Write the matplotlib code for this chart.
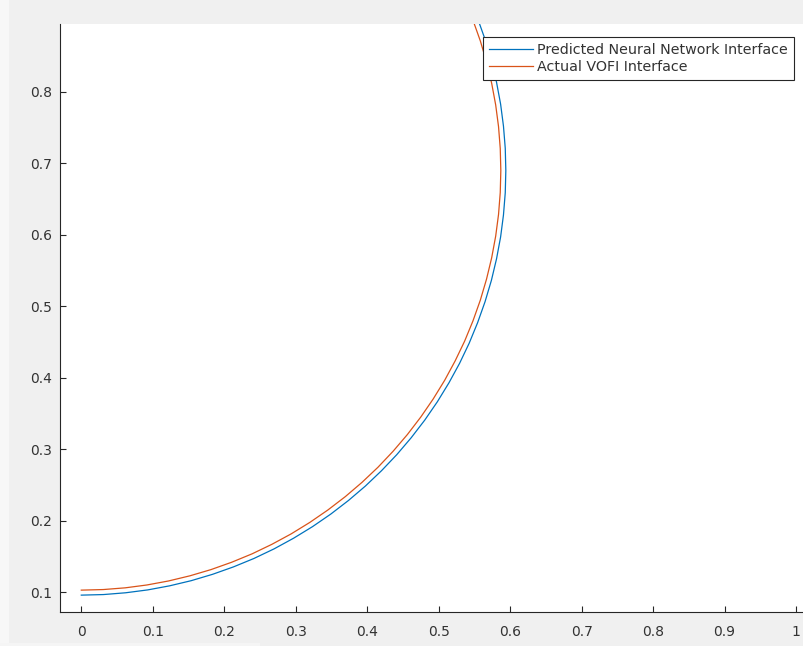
import matplotlib
matplotlib.use("Agg")
import matplotlib.pyplot as plt
from matplotlib.patches import Rectangle

# Interface points (x, y) for each curve
predicted_x = [0.0, 0.0311, 0.0621, 0.0929, 0.1235, 0.1537, 0.1836, 0.2129, 0.2416, 0.2697,
               0.2970, 0.3235, 0.3491, 0.3738, 0.3975, 0.4200, 0.4414, 0.4616, 0.4806, 0.4982,
               0.5144, 0.5293, 0.5427, 0.5545, 0.5649, 0.5738, 0.5810, 0.5867, 0.5907, 0.5932,
               0.5940, 0.5932, 0.5907, 0.5867, 0.5810, 0.5738, 0.5649, 0.5545, 0.5427, 0.5293]
predicted_y = [0.0960, 0.0968, 0.0993, 0.1033, 0.1090, 0.1162, 0.1251, 0.1355, 0.1473, 0.1607,
               0.1756, 0.1918, 0.2094, 0.2284, 0.2486, 0.2700, 0.2925, 0.3162, 0.3409, 0.3665,
               0.3930, 0.4203, 0.4484, 0.4771, 0.5064, 0.5363, 0.5665, 0.5971, 0.6279, 0.6589,
               0.6900, 0.7211, 0.7521, 0.7829, 0.8135, 0.8437, 0.8736, 0.9029, 0.9316, 0.9597]
actual_x = [0.0, 0.0307, 0.0614, 0.0918, 0.1220, 0.1519, 0.1814, 0.2104, 0.2388, 0.2665,
            0.2935, 0.3197, 0.3450, 0.3694, 0.3928, 0.4151, 0.4362, 0.4562, 0.4749, 0.4923,
            0.5084, 0.5230, 0.5363, 0.5480, 0.5583, 0.5670, 0.5742, 0.5798, 0.5838, 0.5862,
            0.5870, 0.5862, 0.5838, 0.5798, 0.5742, 0.5670, 0.5583, 0.5480, 0.5363, 0.5230]
actual_y = [0.1030, 0.1038, 0.1062, 0.1102, 0.1158, 0.1230, 0.1317, 0.1420, 0.1537, 0.1670,
            0.1816, 0.1977, 0.2151, 0.2338, 0.2538, 0.2749, 0.2972, 0.3206, 0.3450, 0.3703,
            0.3965, 0.4235, 0.4512, 0.4796, 0.5086, 0.5381, 0.5680, 0.5982, 0.6286, 0.6593,
            0.6900, 0.7207, 0.7514, 0.7818, 0.8120, 0.8419, 0.8714, 0.9004, 0.9288, 0.9565]

labels = ["Predicted Neural Network Interface", "Actual VOFI Interface"]
xticks = [0, 0.1, 0.2, 0.3, 0.4, 0.5, 0.6, 0.7, 0.8, 0.9, 1]
xticklabels = ["0", "0.1", "0.2", "0.3", "0.4", "0.5", "0.6", "0.7", "0.8", "0.9", "1"]
yticks = [0.1, 0.2, 0.3, 0.4, 0.5, 0.6, 0.7, 0.8]
yticklabels = ["0.1", "0.2", "0.3", "0.4", "0.5", "0.6", "0.7", "0.8"]

W, H = 804, 646
plt.rcParams["font.family"] = ["DejaVu Sans"]
fig = plt.figure(figsize=(W / 100, H / 100), dpi=100, facecolor="#f0f0f0")

# lighter margin strips at the left and bottom edges
fig.patches.append(Rectangle((0, 0), 9 / W, 1, transform=fig.transFigure,
                             facecolor="#f7f7f7", edgecolor="none", zorder=0))
fig.patches.append(Rectangle((0, 0), 260 / W, 3 / H, transform=fig.transFigure,
                             facecolor="#f5f5f5", edgecolor="none", zorder=0))

left, right, top, bottom = 60, 806, 24, 612
ax = fig.add_axes([left / W, (H - bottom) / H, (right - left) / W, (bottom - top) / H])
ax.set_facecolor("white")

ax.plot(predicted_x, predicted_y, color="#0072BD", lw=0.9, label=labels[0])
ax.plot(actual_x, actual_y, color="#D95319", lw=0.9, label=labels[1])

ax.set_xlim(-0.0298, 1.014)
ax.set_ylim(0.0724, 0.895)
ax.set_xticks(xticks)
ax.set_xticklabels(xticklabels)
ax.set_yticks(yticks)
ax.set_yticklabels(yticklabels)

for s in ["top", "right"]:
    ax.spines[s].set_visible(False)
for s in ["left", "bottom"]:
    ax.spines[s].set_color("#262626")
    ax.spines[s].set_linewidth(0.8)
ax.tick_params(direction="in", length=4.5, width=0.8, color="#262626",
               labelcolor="#333333", labelsize=10)
ax.tick_params(axis="x", pad=9)
ax.tick_params(axis="y", pad=6)

leg = ax.legend(loc="upper right", bbox_to_anchor=(794 / W, 1 - 36.7 / H),
                bbox_transform=fig.transFigure, fancybox=False, framealpha=1,
                edgecolor="#262626", fontsize=10.3, handlelength=3.1,
                handletextpad=0.3, borderpad=0.42, labelspacing=0.25,
                borderaxespad=0)
leg.get_frame().set_linewidth(0.8)
for t in leg.get_texts():
    t.set_color("#333333")

fig.savefig("out.png", dpi=100, facecolor=fig.get_facecolor())
